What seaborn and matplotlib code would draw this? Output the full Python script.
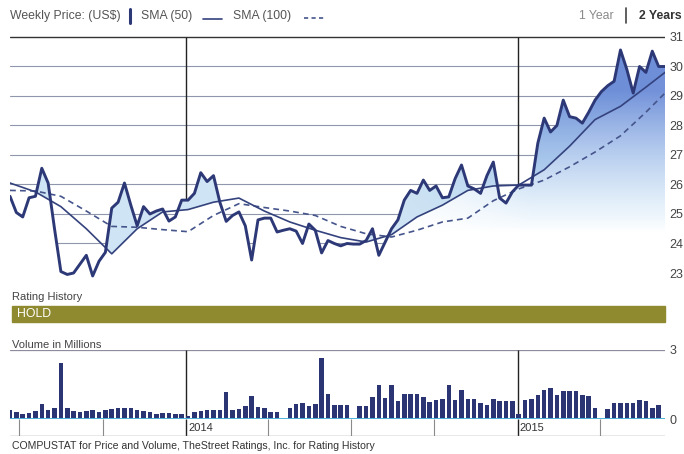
import numpy as np
import pandas as pd
import matplotlib
matplotlib.use('Agg')
import matplotlib.pyplot as plt
import matplotlib.dates as mdates
from matplotlib.patches import Polygon, Rectangle
from matplotlib.lines import Line2D
import seaborn as sns

sns.set_theme(style='white')
plt.rcParams['font.family'] = ['Liberation Sans Narrow', 'Liberation Sans', 'DejaVu Sans']

# weekly closing prices
dates = pd.date_range('2013-06-21', periods=104, freq='W-FRI')
price = [25.6, 25.05, 24.9, 25.55, 25.6, 26.55, 26.05, 24.5, 23.05, 22.95,
         23.0, 23.3, 23.6, 22.9, 23.4, 23.7, 25.2, 25.4, 26.05, 25.3,
         24.6, 25.25, 25.0, 25.1, 25.17, 24.76, 24.9, 25.47, 25.47, 25.7,
         26.4, 26.1, 26.3, 25.4, 24.75, 24.95, 25.07, 24.6, 23.44, 24.8,
         24.86, 24.86, 24.39, 24.45, 24.5, 24.42, 24.0, 24.66, 24.45, 23.68,
         24.1, 24.0, 23.92, 24.0, 23.98, 23.98, 24.1, 24.5, 23.6, 24.05,
         24.5, 24.8, 25.47, 25.8, 25.7, 26.15, 25.8, 25.95, 25.55, 25.58,
         26.2, 26.66, 25.95, 25.85, 25.7, 26.3, 26.76, 25.54, 25.37, 25.75,
         25.98, 25.98, 25.98, 27.4, 28.25, 27.78, 28.0, 28.86, 28.3, 28.25,
         28.08, 28.45, 28.86, 29.15, 29.35, 29.5, 30.56, 29.9, 29.1, 30.0,
         29.8, 30.52, 30.0, 30.0]

# moving averages, read every 4 weeks
sma_idx = [0, 4, 8, 12, 16, 20, 24, 28, 32, 36, 40, 44, 48, 52,
           56, 60, 64, 68, 72, 76, 80, 84, 88, 92, 96, 100, 103]
sma50 = [26.05, 25.75, 25.25, 24.5, 23.65, 24.5, 25.07, 25.15, 25.4, 25.54,
         25.1, 24.73, 24.45, 24.2, 24.05, 24.3, 24.9, 25.3, 25.8, 25.95,
         25.98, 26.5, 27.3, 28.2, 28.65, 29.3, 29.8]
sma100 = [25.8, 25.78, 25.6, 25.1, 24.58, 24.55, 24.47, 24.4, 24.95, 25.35,
          25.22, 25.1, 24.95, 24.58, 24.33, 24.22, 24.45, 24.73, 24.86, 25.45,
          25.85, 26.15, 26.6, 27.1, 27.65, 28.45, 29.1]

# weekly volume in millions
volume = [0.39, 0.29, 0.22, 0.26, 0.36, 0.65, 0.41, 0.46, 2.42, 0.46,
          0.36, 0.29, 0.36, 0.39, 0.32, 0.39, 0.43, 0.48, 0.48, 0.48,
          0.39, 0.33, 0.32, 0.22, 0.26, 0.26, 0.23, 0.22, 0.12, 0.32,
          0.36, 0.39, 0.39, 0.39, 1.19, 0.39, 0.43, 0.58, 0.99, 0.51,
          0.46, 0.32, 0.32, 0.0, 0.46, 0.65, 0.68, 0.58, 0.65, 2.64,
          1.09, 0.62, 0.60, 0.62, 0.0, 0.55, 0.58, 0.94, 1.48, 0.91,
          1.48, 0.77, 1.09, 1.09, 1.09, 0.94, 0.72, 0.84, 0.88, 1.48,
          0.84, 1.28, 0.87, 0.87, 0.70, 0.59, 0.87, 0.77, 0.77, 0.77,
          0.23, 0.84, 0.88, 1.06, 1.28, 1.35, 1.06, 1.20, 1.23, 1.23,
          1.06, 0.99, 0.48, 0.0, 0.45, 0.70, 0.70, 0.70, 0.70, 0.84,
          0.77, 0.48, 0.59, 0.0]

price_ticks = list(range(23, 32))
year_starts = [pd.Timestamp('2014-01-01'), pd.Timestamp('2015-01-01')]
quarters = pd.date_range('2013-07-01', '2015-04-01', freq='QS')

W, H = 684, 454
fig = plt.figure(figsize=(W / 100, H / 100), dpi=100)


def box(l, t, r, b):
    return [l / W, 1 - b / H, (r - l) / W, (b - t) / H]


def ft(x, y, s, **kw):
    kw.setdefault('va', 'center')
    fig.text(x / W, 1 - y / H, s, **kw)


navy = '#2d3877'
ylo, yhi = 22.8, 31.2
right_px = 665

# ---- price panel
ax = fig.add_axes(box(10, 31.1, right_px, 278.9))
xs = mdates.date2num(dates)
for v in price_ticks[:-1]:
    ax.axhline(v, color='#9096ac', lw=0.8, zorder=1)
ax.axhline(31, color='#333333', lw=1.0, zorder=1)
ax.vlines(year_starts, ylo, 31, color='#222222', lw=1.0, zorder=1.5)

ax.fill_between(dates, price, ylo, color='white', zorder=2)
clip_poly = Polygon(list(zip(xs, price)) + [(xs[-1], ylo), (xs[0], ylo)],
                    closed=True, transform=ax.transData)

sx = xs[sma_idx]
above = Polygon(list(zip(sx, sma50)) + [(sx[-1], yhi), (sx[0], yhi)],
                closed=True, facecolor='#cfe4f4', edgecolor='none', zorder=2.5)
ax.add_patch(above)
above.set_clip_path(clip_poly)

# gradient under the 2015 rally
nx, ny = 400, 200
gx = np.linspace(0, len(dates) - 1, nx)
gy = np.linspace(ylo, yhi, ny)
fx = np.clip((gx - 60) / 22, 0, 1)
fy = np.clip((gy - 24.4) / 4.8, 0, 1)
low = np.array([0.70, 0.86, 0.96])
high = np.array([0.40, 0.53, 0.84])
rgba = np.zeros((ny, nx, 4))
for c in range(3):
    rgba[:, :, c] = (low[c] * (1 - fy) + high[c] * fy)[:, None]
rgba[:, :, 3] = fx[None, :] * (fy[:, None] ** 0.7) * 0.92
im = ax.imshow(rgba, extent=[xs[0], xs[-1], ylo, yhi], origin='lower',
               aspect='auto', zorder=2.6)
im.set_clip_path(clip_poly)

sns.lineplot(x=dates[sma_idx], y=sma100, ax=ax, color='#45558c', lw=1.2,
             linestyle=(0, (3.5, 2.5)), zorder=4)
sns.lineplot(x=dates[sma_idx], y=sma50, ax=ax, color='#34427d', lw=1.2, zorder=4)
sns.lineplot(x=dates, y=price, ax=ax, color=navy, lw=2.1, zorder=5)

ax.set_xlim(dates[0], dates[-1])
ax.set_ylim(ylo, yhi)
ax.yaxis.tick_right()
ax.set_yticks(price_ticks)
ax.set_xticks([])
ax.tick_params(axis='y', length=0, pad=3, labelsize=9, labelcolor='#444444')
ax.set_xlabel('')
ax.set_ylabel('')
for s in ax.spines.values():
    s.set_visible(False)

# ---- volume panel
ax2 = fig.add_axes(box(10, 350, right_px, 419))
ax2.axhline(3, color='#8c8c9c', lw=0.9, zorder=1)
ax2.vlines(year_starts, 0, 3, color='#222222', lw=1.0, zorder=1)
ax2.bar(dates, volume, width=5.0, color='#2b3574', linewidth=0, zorder=3)
ax2.axhline(0, color='#4fb3dc', lw=1.4, zorder=4)
ax2.set_xlim(dates[0], dates[-1])
ax2.set_ylim(0, 3)
ax2.yaxis.tick_right()
ax2.set_yticks([0, 3])
ax2.set_xticks([])
ax2.tick_params(axis='y', length=0, pad=3, labelsize=9, labelcolor='#444444')
for s in ax2.spines.values():
    s.set_visible(False)

# ---- date strip
ax3 = fig.add_axes(box(10, 419, right_px, 436))
ax3.set_xlim(dates[0], dates[-1])
ax3.set_ylim(0, 1)
ax3.vlines([q for q in quarters if q not in year_starts], 0, 1, color='#8a8a8a', lw=0.8)
ax3.vlines(year_starts, 0, 1, color='#222222', lw=1.0)
ax3.axhline(0, color='#8a8a8a', lw=1.0)
for y in year_starts:
    ax3.text(y + pd.Timedelta(days=2), 0.45, str(y.year), ha='left', va='center',
             fontsize=8, color='#333333')
ax3.set_xticks([])
ax3.set_yticks([])
for s in ax3.spines.values():
    s.set_visible(False)

# ---- header / legend
ft(10, 16, 'Weekly Price: (US$)', fontsize=8.8, color='#555555')
fig.add_artist(Line2D([130 / W] * 2, [1 - 9 / H, 1 - 23 / H], color=navy, lw=2.2))
ft(141, 16, 'SMA (50)', fontsize=8.8, color='#555555')
fig.add_artist(Line2D([203 / W, 222 / W], [1 - 19 / H] * 2, color='#34427d', lw=1.2))
ft(233, 16, 'SMA (100)', fontsize=8.8, color='#555555')
fig.add_artist(Line2D([304 / W, 324 / W], [1 - 18 / H] * 2, color='#45558c', lw=1.2,
                      linestyle=(0, (2.5, 2))))
ft(614, 16, '1 Year', fontsize=8.8, color='#8a8a8a', ha='right')
fig.add_artist(Line2D([626 / W] * 2, [1 - 8 / H, 1 - 23 / H], color='#444444', lw=1.2))
ft(682, 16, '2 Years', fontsize=8.8, color='#333333', ha='right', weight='bold')

# ---- rating history
ft(12, 297, 'Rating History', fontsize=8, color='#444444')
fig.add_artist(Rectangle((12 / W, 1 - 322 / H), (665 - 12) / W, 16 / H,
                         transform=fig.transFigure, color='#8f8a2f'))
ft(17, 314, 'HOLD', fontsize=8.8, color='white')

ft(12, 345, 'Volume in Millions', fontsize=8, color='#444444')
ft(12, 446, 'COMPUSTAT for Price and Volume, TheStreet Ratings, Inc. for Rating History',
   fontsize=7.6, color='#333333')

fig.savefig('out.png', dpi=100)
